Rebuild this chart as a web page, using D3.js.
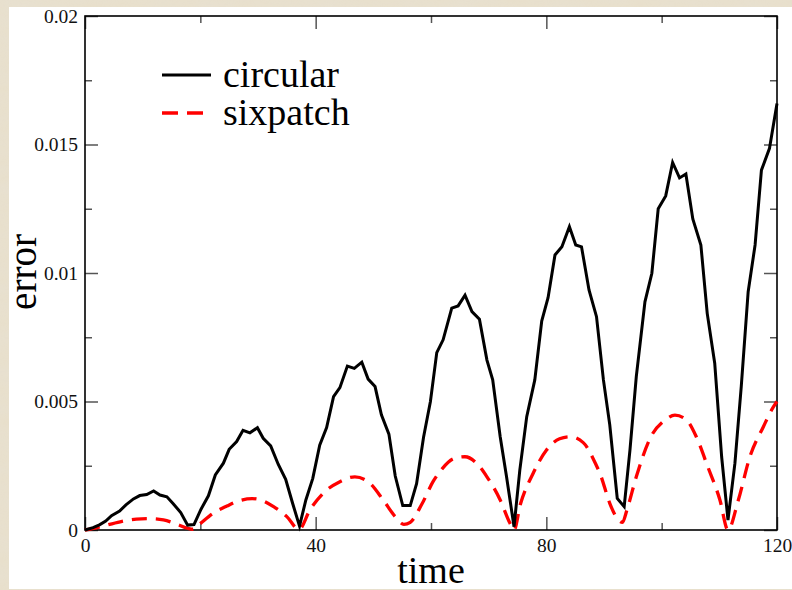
<!DOCTYPE html>
<html>
<head>
<meta charset="utf-8">
<script src="https://d3js.org/d3.v7.min.js"></script>
<style>
  body { margin: 0; background: #ddd2bc; }
  svg { display: block; }
  .tick text { font-family: "Liberation Serif", "Times New Roman", serif; font-size: 19.5px; fill: #111; }
</style>
</head>
<body>
<svg id="chart"></svg>
<script>
// ---- data ----
const circTime = [0, 1.4, 2.5, 3.6, 4.6, 6.0, 7.1, 8.4, 9.5, 10.7, 11.9, 13.0, 14.2, 15.3, 16.6, 17.8, 18.9,
  20.1, 21.4, 22.6, 24.0, 25.0, 26.3, 27.4, 28.6, 29.9, 30.9, 32.2, 33.5, 34.8, 36.0, 37.2,
  38.3, 39.5, 40.7, 41.9, 43.1, 44.2, 45.5, 46.7, 48.0, 49.1, 50.3, 51.4, 52.7, 53.8, 55.1, 56.4,
  57.5, 58.7, 59.9, 61.0, 62.1, 63.6, 64.7, 65.9, 67.1, 68.4, 69.7, 70.7, 72.0, 73.1, 74.4,
  75.4, 76.6, 78.0, 79.2, 80.3, 81.5, 82.7, 84.0, 85.1, 86.1, 87.4, 88.7, 89.9, 91.0, 92.3, 93.5,
  94.5, 95.6, 97.1, 98.3, 99.4, 100.7, 101.9, 103.1, 104.2, 105.4, 106.8, 107.9, 109.2, 110.4, 111.5,
  112.7, 113.8, 115.0, 116.2, 117.3, 118.7, 120];
const circular = [0, 0.00009, 0.0002, 0.00035, 0.00056, 0.00074, 0.00098, 0.00121, 0.00134, 0.00138, 0.00152, 0.00136, 0.00129, 0.00102, 0.00068, 0.00019, 0.00021,
  0.0008, 0.00133, 0.00214, 0.0026, 0.00314, 0.00344, 0.00388, 0.00378, 0.00398, 0.00357, 0.00327, 0.00256, 0.00197, 0.00104, 0.00015,
  0.00117, 0.00201, 0.0033, 0.00399, 0.00519, 0.00554, 0.00638, 0.00629, 0.00653, 0.00587, 0.00558, 0.00448, 0.00373, 0.0021, 0.00095, 0.00095,
  0.0018, 0.0036, 0.005, 0.0069, 0.0074, 0.00863, 0.00872, 0.00914, 0.0085, 0.0082, 0.00661, 0.00584, 0.00363, 0.00207, 0.00013,
  0.00233, 0.00441, 0.00584, 0.00813, 0.00904, 0.0107, 0.01102, 0.0118, 0.01109, 0.01102, 0.00934, 0.0083, 0.00584, 0.00409, 0.00123, 0.00091,
  0.00311, 0.00597, 0.00888, 0.00999, 0.0125, 0.013, 0.0143, 0.0137, 0.01385, 0.0121, 0.01109, 0.00843, 0.00649, 0.00285, 0.00039,
  0.00259, 0.00558, 0.00927, 0.01109, 0.014, 0.01485, 0.0166];

const sixTime = [0, 1.5, 3.2, 6.1, 8.9, 11.3, 13.6, 15.9, 17.9, 18.7, 19.7, 22.2, 24.6, 26.9, 29.0, 30.3, 32.7, 35.0, 37.1,
  39.0, 41.3, 44.2, 46.8, 49.4, 51.7, 53.8, 55.3, 56.4, 58.4, 60.4, 62.0, 64.0, 65.9, 67.9, 69.7, 72.0, 73.7, 74.4,
  75.5, 77.7, 80.0, 82.3, 84.1, 86.4, 88.7, 89.3, 91.0, 92.0, 93.2, 94.0, 95.6, 98.0, 100.6, 102.3, 104.3, 106.0, 108.0, 110.1, 111.5,
  113.3, 115.3, 117.6, 119.4, 120];
const sixpatch = [0, 0.00006, 0.00016, 0.00032, 0.00042, 0.00044, 0.00039, 0.00023, 0.00006, 0.00003, 0.0002, 0.00065, 0.00093, 0.00115, 0.00122, 0.00118, 0.00091, 0.00052, 0.00002,
  0.00078, 0.00143, 0.00188, 0.00207, 0.00182, 0.00117, 0.00052, 0.00022, 0.0003, 0.001, 0.0019, 0.0024, 0.00278, 0.00285, 0.0026, 0.00207, 0.00117, 0.00026, 0,
  0.001, 0.0022, 0.0031, 0.00355, 0.00363, 0.0034, 0.0025, 0.0022, 0.00104, 0.00055, 0.0003, 0.0008, 0.00207, 0.00357, 0.00428, 0.00447, 0.00428, 0.00363, 0.00246, 0.00117, 0,
  0.00117, 0.00285, 0.004, 0.0048, 0.005];

const xMajor = [0, 40, 80, 120];
const xMinor = [20, 60, 100];
const yMajor = [0, 0.005, 0.01, 0.015, 0.02];
const yMinor = [0.0025, 0.0075, 0.0125, 0.0175];
const seriesNames = ["circular", "sixpatch"];

// ---- layout ----
const W = 792, H = 590;
const pL = 85, pR = 777, pT = 16, pB = 530;

const svg = d3.select("#chart").attr("width", W).attr("height", H);

// marble-ish backdrop
const defs = svg.append("defs");
const f = defs.append("filter").attr("id", "marble").attr("x", 0).attr("y", 0).attr("width", 1).attr("height", 1);
f.append("feTurbulence").attr("type", "fractalNoise").attr("baseFrequency", "0.02 0.06").attr("numOctaves", 3).attr("seed", 4);
f.append("feColorMatrix").attr("type", "matrix")
  .attr("values", "0 0 0 0 0.80  0 0 0 0 0.76  0 0 0 0 0.68  0 0 0 -0.9 0.9");
svg.append("rect").attr("width", W).attr("height", H).attr("fill", "#e8dfca");
svg.append("rect").attr("width", W).attr("height", H).attr("filter", "url(#marble)").attr("opacity", 0.6);

// white panel
svg.append("rect").attr("x", 9).attr("y", 7).attr("width", W - 9).attr("height", 582).attr("fill", "#fff");

const x = d3.scaleLinear().domain([0, 120]).range([pL, pR]);
const y = d3.scaleLinear().domain([0, 0.02]).range([pB, pT]);

function tickStyle(g) {
  g.select(".domain").remove();
  g.selectAll(".tick line").attr("stroke", "#555").attr("stroke-width", 1.5);
}

// major + minor ticks, all four sides, pointing inward
svg.append("g").attr("transform", `translate(${pL},0)`)
  .call(d3.axisLeft(y).tickValues(yMajor).tickSize(-13).tickPadding(7)
    .tickFormat(d => d === 0 ? "0" : String(+d.toFixed(3))))
  .call(tickStyle);
svg.append("g").attr("transform", `translate(${pL},0)`)
  .call(d3.axisLeft(y).tickValues(yMinor).tickSize(-7).tickFormat(""))
  .call(tickStyle);
svg.append("g").attr("transform", `translate(${pR},0)`)
  .call(d3.axisRight(y).tickValues(yMajor).tickSize(-13).tickFormat(""))
  .call(tickStyle);
svg.append("g").attr("transform", `translate(${pR},0)`)
  .call(d3.axisRight(y).tickValues(yMinor).tickSize(-7).tickFormat(""))
  .call(tickStyle);

svg.append("g").attr("transform", `translate(0,${pB})`)
  .call(d3.axisBottom(x).tickValues(xMajor).tickSize(-13).tickPadding(8.5))
  .call(tickStyle);
svg.append("g").attr("transform", `translate(0,${pB})`)
  .call(d3.axisBottom(x).tickValues(xMinor).tickSize(-7).tickFormat(""))
  .call(tickStyle);
svg.append("g").attr("transform", `translate(0,${pT})`)
  .call(d3.axisTop(x).tickValues(xMajor).tickSize(-13).tickFormat(""))
  .call(tickStyle);
svg.append("g").attr("transform", `translate(0,${pT})`)
  .call(d3.axisTop(x).tickValues(xMinor).tickSize(-7).tickFormat(""))
  .call(tickStyle);

// frame
svg.append("rect").attr("x", pL).attr("y", pT).attr("width", pR - pL).attr("height", pB - pT)
  .attr("fill", "none").attr("stroke", "#000").attr("stroke-width", 1.6);

// lines
const lineCirc = d3.line().x((d, i) => x(circTime[i])).y(d => y(d));
const lineSix = d3.line().x((d, i) => x(sixTime[i])).y(d => y(d)).curve(d3.curveMonotoneX);

svg.append("path").datum(sixpatch).attr("d", lineSix)
  .attr("fill", "none").attr("stroke", "#ff0000").attr("stroke-width", 3.3)
  .attr("stroke-dasharray", "15,9");
svg.append("path").datum(circular).attr("d", lineCirc)
  .attr("fill", "none").attr("stroke", "#000").attr("stroke-width", 3)
  .attr("stroke-linejoin", "miter");

// legend
const leg = svg.append("g");
leg.append("line").attr("x1", 162).attr("x2", 211).attr("y1", 75).attr("y2", 75)
  .attr("stroke", "#000").attr("stroke-width", 3);
leg.append("line").attr("x1", 162).attr("x2", 211).attr("y1", 113).attr("y2", 113)
  .attr("stroke", "#ff0000").attr("stroke-width", 3.3).attr("stroke-dasharray", "16,9");
leg.selectAll("text").data(seriesNames).enter().append("text")
  .attr("x", 223).attr("y", (d, i) => 87 + i * 38)
  .attr("font-family", "Liberation Serif, Times New Roman, serif")
  .attr("font-size", 38).attr("fill", "#000")
  .text(d => d);

// axis titles
svg.append("text").attr("x", (pL + pR) / 2).attr("y", 583)
  .attr("text-anchor", "middle")
  .attr("font-family", "Liberation Serif, Times New Roman, serif").attr("font-size", 38)
  .text("time");
svg.append("text").attr("transform", `translate(36,${(pT + pB) / 2 - 1}) rotate(-90)`)
  .attr("text-anchor", "middle")
  .attr("font-family", "Liberation Serif, Times New Roman, serif").attr("font-size", 39)
  .text("error");
</script>
</body>
</html>
